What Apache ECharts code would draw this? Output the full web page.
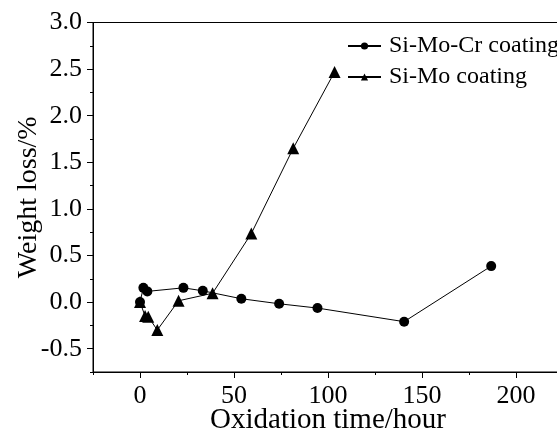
<!DOCTYPE html>
<html>
<head>
<meta charset="utf-8">
<script src="https://cdn.jsdelivr.net/npm/echarts@6/dist/echarts.min.js"></script>
<style>html,body{margin:0;padding:0;background:#fff}#c{width:557px;height:434px}</style>
</head>
<body>
<div id="c"></div>
<script>
// Si-Mo-Cr coating: [time (h), weight loss (%)]
const siMoCrTime = [0, 1.8, 3.9, 23.1, 33.4, 53.9, 74, 94.4, 140.5, 186.8];
const siMoCrLoss = [0, 0.153, 0.115, 0.153, 0.121, 0.036, -0.018, -0.064, -0.21, 0.386];
// Si-Mo coating
const siMoTime = [0, 2.7, 4.4, 9.2, 20.5, 38.6, 59.2, 81.5, 103.5];
const siMoLoss = [0, -0.15, -0.157, -0.30, 0.014, 0.095, 0.735, 1.65, 2.47];
// tick labels
const xTicks = [0, 50, 100, 150, 200];
const yTicks = [-0.5, 0, 0.5, 1.0, 1.5, 2.0, 2.5, 3.0];

const FONT = 'Liberation Serif';
const chart = echarts.init(document.getElementById('c'));
const zip = (a, b) => a.map((v, i) => [v, b[i]]);
const black = '#000';

chart.setOption({
  animation: false,
  backgroundColor: '#fff',
  grid: { left: 93, top: 22.5, width: 470, height: 349.5, show: true, borderColor: black, borderWidth: 1,
    backgroundColor: 'transparent', containLabel: false, outerBoundsMode: 'none' },
  legend: {
    left: 347, top: 34, padding: 0, orient: 'vertical', itemGap: 7,
    itemWidth: 33, itemHeight: 9,
    textStyle: { fontFamily: FONT, fontSize: 24, color: black, padding: [0, 0, 0, 3] },
    data: ['Si-Mo-Cr coating', 'Si-Mo coating']
  },
  xAxis: [
    {
      type: 'value', min: -25, max: 225, interval: 25,
      name: 'Oxidation time/hour', nameLocation: 'middle', nameGap: 34, nameMoveOverlap: false,
      nameTextStyle: { fontFamily: FONT, fontSize: 29, color: black },
      axisLine: { show: true, onZero: false, lineStyle: { color: black, width: 1 } },
      axisTick: { show: true, customValues: xTicks, length: 6, lineStyle: { color: black } },
      axisLabel: { customValues: xTicks, margin: 11, fontFamily: FONT, fontSize: 26, color: black },
      splitLine: { show: false }
    },
    {
      type: 'value', min: -25, max: 225, interval: 25, position: 'bottom',
      axisLine: { show: false, onZero: false },
      axisTick: { show: true, length: 3, lineStyle: { color: black } },
      axisLabel: { show: false },
      splitLine: { show: false }
    }
  ],
  yAxis: [
    {
      type: 'value', min: -0.75, max: 3.0, interval: 0.25,
      name: 'Weight loss/%', nameLocation: 'middle', nameGap: 50, nameMoveOverlap: false,
      nameTextStyle: { fontFamily: FONT, fontSize: 28, color: black },
      axisLine: { show: true, onZero: false, lineStyle: { color: black, width: 1 } },
      axisTick: { show: true, customValues: yTicks, length: 6, lineStyle: { color: black } },
      axisLabel: { customValues: yTicks, margin: 11, fontFamily: FONT, fontSize: 26, color: black,
        formatter: v => v.toFixed(1) },
      splitLine: { show: false }
    },
    {
      type: 'value', min: -0.75, max: 3.0, interval: 0.25, position: 'left',
      axisLine: { show: false, onZero: false },
      axisTick: { show: true, length: 3, lineStyle: { color: black } },
      axisLabel: { show: false },
      splitLine: { show: false }
    }
  ],
  series: [
    {
      name: 'Si-Mo-Cr coating', type: 'line', xAxisIndex: 0, yAxisIndex: 0,
      data: zip(siMoCrTime, siMoCrLoss),
      symbol: 'circle', symbolSize: 10,
      lineStyle: { color: black, width: 1 }, itemStyle: { color: black }
    },
    {
      name: 'Si-Mo coating', type: 'line', xAxisIndex: 0, yAxisIndex: 0,
      data: zip(siMoTime, siMoLoss),
      symbol: 'triangle', symbolSize: 12,
      lineStyle: { color: black, width: 1 }, itemStyle: { color: black }
    }
  ]
});
</script>
</body>
</html>
